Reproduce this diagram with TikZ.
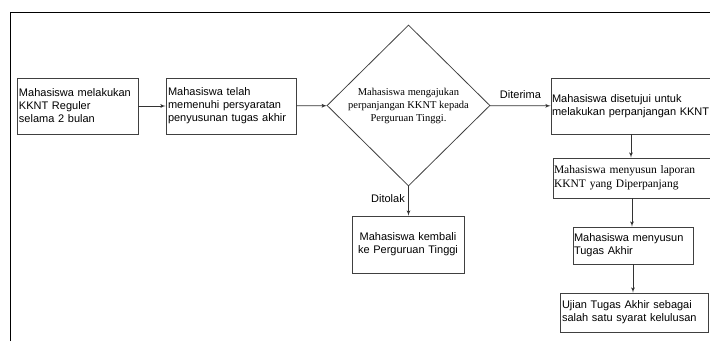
\documentclass[tikz,border=0pt]{standalone}
\usepackage{fontspec}
\setmainfont{Liberation Sans}
\newfontfamily\serifnode{Liberation Serif}
\usetikzlibrary{shapes.geometric, arrows}

\begin{document}
\begin{tikzpicture}[x=1pt, y=-1pt]

\tikzset{process/.style = {shape=rectangle, draw=black!75, line width=0.8pt, inner xsep=2pt, inner ysep=0pt, align=left, font=\fontsize{11}{13}\selectfont}}
\tikzset{decision/.style = {shape=diamond, draw=black!75, line width=0.8pt, inner sep=0pt, align=center, font=\serifnode\fontsize{10.5}{13}\selectfont}}
\tikzset{edge/.style = {->, > = latex', draw=black!80, line width=0.8pt, font=\fontsize{11}{13}\selectfont}}
\useasboundingbox (0,0) rectangle (710,341);
\clip (0,0) rectangle (710,341);
%frame
\draw[line width=1.6pt] (10.5,341) -- (10.5,12.5) -- (710,12.5);
%verticies
\node[process, text width=117pt, minimum height=56pt] (1) at (77.5,106) {Mahasiswa melakukan\\KKNT Reguler\\selama 2 bulan};
\node[process, text width=126pt, minimum height=56pt] (2) at (231,106) {Mahasiswa telah\\memenuhi persyaratan\\penyusunan tugas akhir};
\node[decision, minimum width=163pt, minimum height=161pt] (3) at (408.5,105.5) {Mahasiswa mengajukan\\perpanjangan KKNT kepada\\Perguruan Tinggi.};
\node[process, text width=158pt, inner xsep=1pt, minimum height=56pt] (4) at (631,106) {Mahasiswa disetujui untuk\\melakukan perpanjangan KKNT};
\node[process, text width=156pt, inner xsep=1pt, minimum height=40pt, font=\serifnode\fontsize{11.5}{14}\selectfont] (5) at (632,178) {Mahasiswa menyusun laporan\\KKNT yang Diperpanjang};
\node[process, text width=118pt, inner xsep=1pt, minimum height=37pt] (6) at (633,245.5) {Mahasiswa menyusun\\Tugas Akhir};
\node[process, text width=144pt, minimum height=39pt] (7) at (634,312.5) {Ujian Tugas Akhir sebagai\\salah satu syarat kelulusan};
\node[process, align=center, text width=108pt, minimum height=57pt] (8) at (408,244.5) {Mahasiswa kembali\\ke Perguruan Tinggi};
%edges
\path[edge] (1) -- (2);
\path[edge] (2) -- (3);
\path[edge] (3) -- node[above=3pt] {Diterima} (4);
\path[edge] (3.south) -- node[left, pos=0.4] {Ditolak} (3.south |- 8.north);
\path[edge] (4.south) -- (4.south |- 5.north);
\path[edge] (5.south) -- (5.south |- 6.north);
\path[edge] (6.south) -- (6.south |- 7.north);

\end{tikzpicture}
\end{document}
